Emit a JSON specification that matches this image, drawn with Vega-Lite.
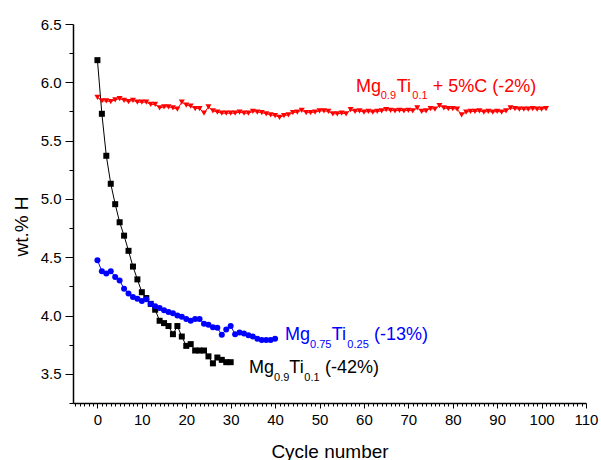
{
  "$schema": "https://vega.github.io/schema/vega-lite/v6.json",
  "width": 513,
  "height": 379,
  "autosize": "none",
  "padding": {"left": 73, "top": 24, "right": 15, "bottom": 57},
  "config": {
    "font": "Liberation Sans",
    "view": {"stroke": null},
    "axis": {
      "domainColor": "#000000",
      "domainWidth": 1.5,
      "tickColor": "#000000",
      "tickWidth": 1,
      "labelColor": "#000000",
      "titleColor": "#000000",
      "labelFont": "Liberation Sans",
      "titleFont": "Liberation Sans",
      "labelFontSize": 15,
      "titleFontSize": 19,
      "titleFontWeight": "normal",
      "grid": false,
      "labelOverlap": false,
      "labelBound": false,
      "labelFlush": false
    }
  },
  "datasets": {
    "points": [
      {"series": "Mg0.9Ti0.1", "cycle": 0, "wt": 6.19},
      {"series": "Mg0.9Ti0.1", "cycle": 1, "wt": 5.73},
      {"series": "Mg0.9Ti0.1", "cycle": 2, "wt": 5.37},
      {"series": "Mg0.9Ti0.1", "cycle": 3, "wt": 5.13},
      {"series": "Mg0.9Ti0.1", "cycle": 4, "wt": 4.955},
      {"series": "Mg0.9Ti0.1", "cycle": 5, "wt": 4.8},
      {"series": "Mg0.9Ti0.1", "cycle": 6, "wt": 4.685},
      {"series": "Mg0.9Ti0.1", "cycle": 7, "wt": 4.555},
      {"series": "Mg0.9Ti0.1", "cycle": 8, "wt": 4.42},
      {"series": "Mg0.9Ti0.1", "cycle": 9, "wt": 4.31},
      {"series": "Mg0.9Ti0.1", "cycle": 10, "wt": 4.2},
      {"series": "Mg0.9Ti0.1", "cycle": 11, "wt": 4.15},
      {"series": "Mg0.9Ti0.1", "cycle": 12, "wt": 4.1},
      {"series": "Mg0.9Ti0.1", "cycle": 13, "wt": 4.05},
      {"series": "Mg0.9Ti0.1", "cycle": 14, "wt": 3.955},
      {"series": "Mg0.9Ti0.1", "cycle": 15, "wt": 3.935},
      {"series": "Mg0.9Ti0.1", "cycle": 16, "wt": 3.91},
      {"series": "Mg0.9Ti0.1", "cycle": 17, "wt": 3.84},
      {"series": "Mg0.9Ti0.1", "cycle": 18, "wt": 3.91},
      {"series": "Mg0.9Ti0.1", "cycle": 19, "wt": 3.82},
      {"series": "Mg0.9Ti0.1", "cycle": 20, "wt": 3.74},
      {"series": "Mg0.9Ti0.1", "cycle": 21, "wt": 3.755},
      {"series": "Mg0.9Ti0.1", "cycle": 22, "wt": 3.7},
      {"series": "Mg0.9Ti0.1", "cycle": 23, "wt": 3.7},
      {"series": "Mg0.9Ti0.1", "cycle": 24, "wt": 3.7},
      {"series": "Mg0.9Ti0.1", "cycle": 25, "wt": 3.65},
      {"series": "Mg0.9Ti0.1", "cycle": 26, "wt": 3.59},
      {"series": "Mg0.9Ti0.1", "cycle": 27, "wt": 3.64},
      {"series": "Mg0.9Ti0.1", "cycle": 28, "wt": 3.62},
      {"series": "Mg0.9Ti0.1", "cycle": 29, "wt": 3.6},
      {"series": "Mg0.9Ti0.1", "cycle": 30, "wt": 3.6},
      {"series": "Mg0.75Ti0.25", "cycle": 0, "wt": 4.475},
      {"series": "Mg0.75Ti0.25", "cycle": 1, "wt": 4.38},
      {"series": "Mg0.75Ti0.25", "cycle": 2, "wt": 4.36},
      {"series": "Mg0.75Ti0.25", "cycle": 3, "wt": 4.38},
      {"series": "Mg0.75Ti0.25", "cycle": 4, "wt": 4.33},
      {"series": "Mg0.75Ti0.25", "cycle": 5, "wt": 4.3},
      {"series": "Mg0.75Ti0.25", "cycle": 6, "wt": 4.23},
      {"series": "Mg0.75Ti0.25", "cycle": 7, "wt": 4.19},
      {"series": "Mg0.75Ti0.25", "cycle": 8, "wt": 4.16},
      {"series": "Mg0.75Ti0.25", "cycle": 9, "wt": 4.145},
      {"series": "Mg0.75Ti0.25", "cycle": 10, "wt": 4.125},
      {"series": "Mg0.75Ti0.25", "cycle": 11, "wt": 4.14},
      {"series": "Mg0.75Ti0.25", "cycle": 12, "wt": 4.1},
      {"series": "Mg0.75Ti0.25", "cycle": 13, "wt": 4.08},
      {"series": "Mg0.75Ti0.25", "cycle": 14, "wt": 4.065},
      {"series": "Mg0.75Ti0.25", "cycle": 15, "wt": 4.045},
      {"series": "Mg0.75Ti0.25", "cycle": 16, "wt": 4.03},
      {"series": "Mg0.75Ti0.25", "cycle": 17, "wt": 4.02},
      {"series": "Mg0.75Ti0.25", "cycle": 18, "wt": 4.0},
      {"series": "Mg0.75Ti0.25", "cycle": 19, "wt": 3.99},
      {"series": "Mg0.75Ti0.25", "cycle": 20, "wt": 3.97},
      {"series": "Mg0.75Ti0.25", "cycle": 21, "wt": 3.955},
      {"series": "Mg0.75Ti0.25", "cycle": 22, "wt": 3.97},
      {"series": "Mg0.75Ti0.25", "cycle": 23, "wt": 3.97},
      {"series": "Mg0.75Ti0.25", "cycle": 24, "wt": 3.93},
      {"series": "Mg0.75Ti0.25", "cycle": 25, "wt": 3.92},
      {"series": "Mg0.75Ti0.25", "cycle": 26, "wt": 3.9},
      {"series": "Mg0.75Ti0.25", "cycle": 27, "wt": 3.895},
      {"series": "Mg0.75Ti0.25", "cycle": 28, "wt": 3.835},
      {"series": "Mg0.75Ti0.25", "cycle": 29, "wt": 3.88},
      {"series": "Mg0.75Ti0.25", "cycle": 30, "wt": 3.91},
      {"series": "Mg0.75Ti0.25", "cycle": 31, "wt": 3.84},
      {"series": "Mg0.75Ti0.25", "cycle": 32, "wt": 3.855},
      {"series": "Mg0.75Ti0.25", "cycle": 33, "wt": 3.845},
      {"series": "Mg0.75Ti0.25", "cycle": 34, "wt": 3.83},
      {"series": "Mg0.75Ti0.25", "cycle": 35, "wt": 3.82},
      {"series": "Mg0.75Ti0.25", "cycle": 36, "wt": 3.8},
      {"series": "Mg0.75Ti0.25", "cycle": 37, "wt": 3.79},
      {"series": "Mg0.75Ti0.25", "cycle": 38, "wt": 3.79},
      {"series": "Mg0.75Ti0.25", "cycle": 39, "wt": 3.79},
      {"series": "Mg0.75Ti0.25", "cycle": 40, "wt": 3.8},
      {"series": "Mg0.9Ti0.1+5%C", "cycle": 0, "wt": 5.87},
      {"series": "Mg0.9Ti0.1+5%C", "cycle": 1, "wt": 5.84},
      {"series": "Mg0.9Ti0.1+5%C", "cycle": 2, "wt": 5.84},
      {"series": "Mg0.9Ti0.1+5%C", "cycle": 3, "wt": 5.835},
      {"series": "Mg0.9Ti0.1+5%C", "cycle": 4, "wt": 5.85},
      {"series": "Mg0.9Ti0.1+5%C", "cycle": 5, "wt": 5.86},
      {"series": "Mg0.9Ti0.1+5%C", "cycle": 6, "wt": 5.845},
      {"series": "Mg0.9Ti0.1+5%C", "cycle": 7, "wt": 5.835},
      {"series": "Mg0.9Ti0.1+5%C", "cycle": 8, "wt": 5.845},
      {"series": "Mg0.9Ti0.1+5%C", "cycle": 9, "wt": 5.83},
      {"series": "Mg0.9Ti0.1+5%C", "cycle": 10, "wt": 5.83},
      {"series": "Mg0.9Ti0.1+5%C", "cycle": 11, "wt": 5.83},
      {"series": "Mg0.9Ti0.1+5%C", "cycle": 12, "wt": 5.81},
      {"series": "Mg0.9Ti0.1+5%C", "cycle": 13, "wt": 5.81},
      {"series": "Mg0.9Ti0.1+5%C", "cycle": 14, "wt": 5.78},
      {"series": "Mg0.9Ti0.1+5%C", "cycle": 15, "wt": 5.79},
      {"series": "Mg0.9Ti0.1+5%C", "cycle": 16, "wt": 5.79},
      {"series": "Mg0.9Ti0.1+5%C", "cycle": 17, "wt": 5.78},
      {"series": "Mg0.9Ti0.1+5%C", "cycle": 18, "wt": 5.77},
      {"series": "Mg0.9Ti0.1+5%C", "cycle": 19, "wt": 5.83},
      {"series": "Mg0.9Ti0.1+5%C", "cycle": 20, "wt": 5.805},
      {"series": "Mg0.9Ti0.1+5%C", "cycle": 21, "wt": 5.795},
      {"series": "Mg0.9Ti0.1+5%C", "cycle": 22, "wt": 5.775},
      {"series": "Mg0.9Ti0.1+5%C", "cycle": 23, "wt": 5.775},
      {"series": "Mg0.9Ti0.1+5%C", "cycle": 24, "wt": 5.735},
      {"series": "Mg0.9Ti0.1+5%C", "cycle": 25, "wt": 5.79},
      {"series": "Mg0.9Ti0.1+5%C", "cycle": 26, "wt": 5.755},
      {"series": "Mg0.9Ti0.1+5%C", "cycle": 27, "wt": 5.745},
      {"series": "Mg0.9Ti0.1+5%C", "cycle": 28, "wt": 5.735},
      {"series": "Mg0.9Ti0.1+5%C", "cycle": 29, "wt": 5.735},
      {"series": "Mg0.9Ti0.1+5%C", "cycle": 30, "wt": 5.735},
      {"series": "Mg0.9Ti0.1+5%C", "cycle": 31, "wt": 5.735},
      {"series": "Mg0.9Ti0.1+5%C", "cycle": 32, "wt": 5.745},
      {"series": "Mg0.9Ti0.1+5%C", "cycle": 33, "wt": 5.735},
      {"series": "Mg0.9Ti0.1+5%C", "cycle": 34, "wt": 5.735},
      {"series": "Mg0.9Ti0.1+5%C", "cycle": 35, "wt": 5.75},
      {"series": "Mg0.9Ti0.1+5%C", "cycle": 36, "wt": 5.745},
      {"series": "Mg0.9Ti0.1+5%C", "cycle": 37, "wt": 5.74},
      {"series": "Mg0.9Ti0.1+5%C", "cycle": 38, "wt": 5.73},
      {"series": "Mg0.9Ti0.1+5%C", "cycle": 39, "wt": 5.72},
      {"series": "Mg0.9Ti0.1+5%C", "cycle": 40, "wt": 5.715},
      {"series": "Mg0.9Ti0.1+5%C", "cycle": 41, "wt": 5.7},
      {"series": "Mg0.9Ti0.1+5%C", "cycle": 42, "wt": 5.715},
      {"series": "Mg0.9Ti0.1+5%C", "cycle": 43, "wt": 5.72},
      {"series": "Mg0.9Ti0.1+5%C", "cycle": 44, "wt": 5.74},
      {"series": "Mg0.9Ti0.1+5%C", "cycle": 45, "wt": 5.745},
      {"series": "Mg0.9Ti0.1+5%C", "cycle": 46, "wt": 5.76},
      {"series": "Mg0.9Ti0.1+5%C", "cycle": 47, "wt": 5.74},
      {"series": "Mg0.9Ti0.1+5%C", "cycle": 48, "wt": 5.74},
      {"series": "Mg0.9Ti0.1+5%C", "cycle": 49, "wt": 5.745},
      {"series": "Mg0.9Ti0.1+5%C", "cycle": 50, "wt": 5.755},
      {"series": "Mg0.9Ti0.1+5%C", "cycle": 51, "wt": 5.755},
      {"series": "Mg0.9Ti0.1+5%C", "cycle": 52, "wt": 5.75},
      {"series": "Mg0.9Ti0.1+5%C", "cycle": 53, "wt": 5.73},
      {"series": "Mg0.9Ti0.1+5%C", "cycle": 54, "wt": 5.73},
      {"series": "Mg0.9Ti0.1+5%C", "cycle": 55, "wt": 5.735},
      {"series": "Mg0.9Ti0.1+5%C", "cycle": 56, "wt": 5.73},
      {"series": "Mg0.9Ti0.1+5%C", "cycle": 57, "wt": 5.765},
      {"series": "Mg0.9Ti0.1+5%C", "cycle": 58, "wt": 5.75},
      {"series": "Mg0.9Ti0.1+5%C", "cycle": 59, "wt": 5.755},
      {"series": "Mg0.9Ti0.1+5%C", "cycle": 60, "wt": 5.745},
      {"series": "Mg0.9Ti0.1+5%C", "cycle": 61, "wt": 5.75},
      {"series": "Mg0.9Ti0.1+5%C", "cycle": 62, "wt": 5.745},
      {"series": "Mg0.9Ti0.1+5%C", "cycle": 63, "wt": 5.75},
      {"series": "Mg0.9Ti0.1+5%C", "cycle": 64, "wt": 5.755},
      {"series": "Mg0.9Ti0.1+5%C", "cycle": 65, "wt": 5.765},
      {"series": "Mg0.9Ti0.1+5%C", "cycle": 66, "wt": 5.76},
      {"series": "Mg0.9Ti0.1+5%C", "cycle": 67, "wt": 5.755},
      {"series": "Mg0.9Ti0.1+5%C", "cycle": 68, "wt": 5.76},
      {"series": "Mg0.9Ti0.1+5%C", "cycle": 69, "wt": 5.755},
      {"series": "Mg0.9Ti0.1+5%C", "cycle": 70, "wt": 5.76},
      {"series": "Mg0.9Ti0.1+5%C", "cycle": 71, "wt": 5.755},
      {"series": "Mg0.9Ti0.1+5%C", "cycle": 72, "wt": 5.78},
      {"series": "Mg0.9Ti0.1+5%C", "cycle": 73, "wt": 5.75},
      {"series": "Mg0.9Ti0.1+5%C", "cycle": 74, "wt": 5.755},
      {"series": "Mg0.9Ti0.1+5%C", "cycle": 75, "wt": 5.775},
      {"series": "Mg0.9Ti0.1+5%C", "cycle": 76, "wt": 5.77},
      {"series": "Mg0.9Ti0.1+5%C", "cycle": 77, "wt": 5.8},
      {"series": "Mg0.9Ti0.1+5%C", "cycle": 78, "wt": 5.78},
      {"series": "Mg0.9Ti0.1+5%C", "cycle": 79, "wt": 5.775},
      {"series": "Mg0.9Ti0.1+5%C", "cycle": 80, "wt": 5.775},
      {"series": "Mg0.9Ti0.1+5%C", "cycle": 81, "wt": 5.77},
      {"series": "Mg0.9Ti0.1+5%C", "cycle": 82, "wt": 5.72},
      {"series": "Mg0.9Ti0.1+5%C", "cycle": 83, "wt": 5.745},
      {"series": "Mg0.9Ti0.1+5%C", "cycle": 84, "wt": 5.75},
      {"series": "Mg0.9Ti0.1+5%C", "cycle": 85, "wt": 5.75},
      {"series": "Mg0.9Ti0.1+5%C", "cycle": 86, "wt": 5.755},
      {"series": "Mg0.9Ti0.1+5%C", "cycle": 87, "wt": 5.745},
      {"series": "Mg0.9Ti0.1+5%C", "cycle": 88, "wt": 5.75},
      {"series": "Mg0.9Ti0.1+5%C", "cycle": 89, "wt": 5.745},
      {"series": "Mg0.9Ti0.1+5%C", "cycle": 90, "wt": 5.75},
      {"series": "Mg0.9Ti0.1+5%C", "cycle": 91, "wt": 5.745},
      {"series": "Mg0.9Ti0.1+5%C", "cycle": 92, "wt": 5.755},
      {"series": "Mg0.9Ti0.1+5%C", "cycle": 93, "wt": 5.78},
      {"series": "Mg0.9Ti0.1+5%C", "cycle": 94, "wt": 5.775},
      {"series": "Mg0.9Ti0.1+5%C", "cycle": 95, "wt": 5.77},
      {"series": "Mg0.9Ti0.1+5%C", "cycle": 96, "wt": 5.77},
      {"series": "Mg0.9Ti0.1+5%C", "cycle": 97, "wt": 5.77},
      {"series": "Mg0.9Ti0.1+5%C", "cycle": 98, "wt": 5.775},
      {"series": "Mg0.9Ti0.1+5%C", "cycle": 99, "wt": 5.77},
      {"series": "Mg0.9Ti0.1+5%C", "cycle": 100, "wt": 5.77},
      {"series": "Mg0.9Ti0.1+5%C", "cycle": 101, "wt": 5.775}
    ],
    "labels": [
      {"series": "Mg0.9Ti0.1", "cycle": 34.14, "wt": 3.507, "text": "Mg", "kind": "main"},
      {"series": "Mg0.9Ti0.1", "cycle": 39.76, "wt": 3.435, "text": "0.9", "kind": "sub"},
      {"series": "Mg0.9Ti0.1", "cycle": 43.21, "wt": 3.507, "text": "Ti", "kind": "main"},
      {"series": "Mg0.9Ti0.1", "cycle": 46.59, "wt": 3.435, "text": "0.1", "kind": "sub"},
      {"series": "Mg0.9Ti0.1", "cycle": 51.25, "wt": 3.507, "text": "(-42%)", "kind": "main"},
      {"series": "Mg0.75Ti0.25", "cycle": 42.25, "wt": 3.786, "text": "Mg", "kind": "main"},
      {"series": "Mg0.75Ti0.25", "cycle": 47.87, "wt": 3.721, "text": "0.75", "kind": "sub"},
      {"series": "Mg0.75Ti0.25", "cycle": 52.76, "wt": 3.786, "text": "Ti", "kind": "main"},
      {"series": "Mg0.75Ti0.25", "cycle": 56.27, "wt": 3.721, "text": "0.25", "kind": "sub"},
      {"series": "Mg0.75Ti0.25", "cycle": 62.28, "wt": 3.786, "text": "(-13%)", "kind": "main"},
      {"series": "Mg0.9Ti0.1+5%C", "cycle": 58.23, "wt": 5.915, "text": "Mg", "kind": "main"},
      {"series": "Mg0.9Ti0.1+5%C", "cycle": 63.79, "wt": 5.855, "text": "0.9", "kind": "sub"},
      {"series": "Mg0.9Ti0.1+5%C", "cycle": 67.39, "wt": 5.915, "text": "Ti", "kind": "main"},
      {"series": "Mg0.9Ti0.1+5%C", "cycle": 70.9, "wt": 5.855, "text": "0.1", "kind": "sub"},
      {"series": "Mg0.9Ti0.1+5%C", "cycle": 75.49, "wt": 5.915, "text": "+ 5%C (-2%)", "kind": "main"}
    ]
  },
  "encoding": {
    "x": {
      "field": "cycle",
      "type": "quantitative",
      "scale": {"domain": [-5.5, 110], "nice": false, "zero": false},
      "axis": {
        "title": "Cycle number",
        "values": [-5,-4,-3,-2,-1,0,1,2,3,4,5,6,7,8,9,10,11,12,13,14,15,16,17,18,19,20,21,22,23,24,25,26,27,28,29,30,31,32,33,34,35,36,37,38,39,40,41,42,43,44,45,46,47,48,49,50,51,52,53,54,55,56,57,58,59,60,61,62,63,64,65,66,67,68,69,70,71,72,73,74,75,76,77,78,79,80,81,82,83,84,85,86,87,88,89,90,91,92,93,94,95,96,97,98,99,100,101,102,103,104,105,106,107,108,109,110],
        "labelExpr": "datum.value % 10 === 0 ? datum.label : ''",
        "tickSize": {"condition": {"test": "datum.value % 10 === 0", "value": 5}, "value": 3},
        "labelPadding": 4,
        "titlePadding": 15
      }
    },
    "y": {
      "field": "wt",
      "type": "quantitative",
      "scale": {"domain": [3.25, 6.5], "nice": false, "zero": false},
      "axis": {
        "title": "wt.% H",
        "values": [3.25,3.5,3.75,4.0,4.25,4.5,4.75,5.0,5.25,5.5,5.75,6.0,6.25,6.5],
        "labelExpr": "(datum.value * 2) % 1 === 0 ? format(datum.value, '.1f') : ''",
        "tickSize": {"condition": {"test": "(datum.value * 2) % 1 === 0", "value": 8}, "value": 4},
        "labelPadding": 4,
        "titleX": -52,
        "titleY": 202,
        "titleAlign": "center",
        "titleBaseline": "middle",
        "titleAngle": 270
      }
    },
    "color": {
      "field": "series",
      "type": "nominal",
      "scale": {"domain": ["Mg0.9Ti0.1", "Mg0.75Ti0.25", "Mg0.9Ti0.1+5%C"], "range": ["#000000", "#0000FF", "#FF0000"]},
      "legend": null
    }
  },
  "layer": [
    {
      "data": {"name": "points"},
      "mark": {"type": "line", "strokeWidth": 1},
      "encoding": {}
    },
    {
      "data": {"name": "points"},
      "mark": {"type": "point", "filled": true, "opacity": 1},
      "encoding": {
        "shape": {
          "field": "series",
          "type": "nominal",
          "scale": {"domain": ["Mg0.9Ti0.1", "Mg0.75Ti0.25", "Mg0.9Ti0.1+5%C"], "range": ["square", "circle", "triangle-down"]},
          "legend": null
        },
        "size": {
          "field": "series",
          "type": "nominal",
          "scale": {"domain": ["Mg0.9Ti0.1", "Mg0.75Ti0.25", "Mg0.9Ti0.1+5%C"], "range": [36, 36, 50]},
          "legend": null
        }
      }
    },
    {
      "data": {"name": "labels"},
      "transform": [{"filter": "datum.kind === 'main'"}],
      "mark": {"type": "text", "align": "left", "baseline": "alphabetic", "font": "Liberation Sans", "fontSize": 18},
      "encoding": {
        "text": {"field": "text", "type": "nominal"}
      }
    },
    {
      "data": {"name": "labels"},
      "transform": [{"filter": "datum.kind === 'sub'"}],
      "mark": {"type": "text", "align": "left", "baseline": "alphabetic", "font": "Liberation Sans", "fontSize": 11},
      "encoding": {
        "text": {"field": "text", "type": "nominal"}
      }
    }
  ]
}
